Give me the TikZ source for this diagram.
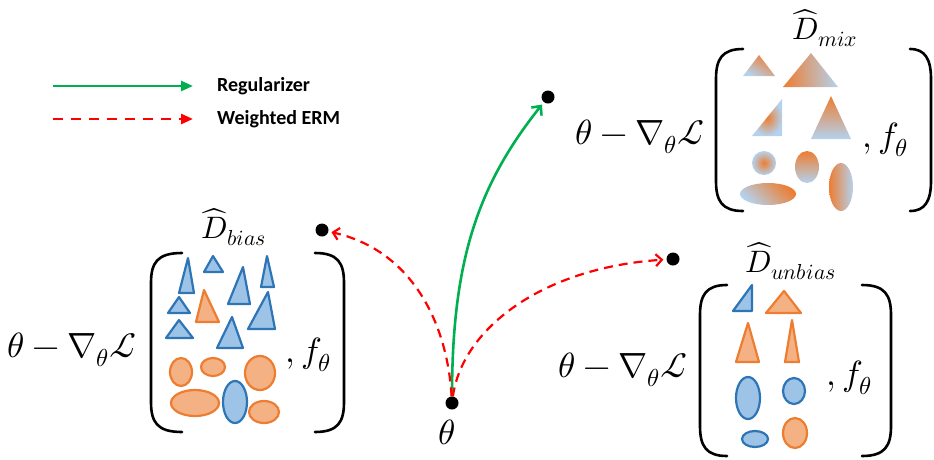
\documentclass[tikz,border=0pt]{standalone}
\usepackage{fontspec}
\usepackage{unicode-math}
\setmathfont{Latin Modern Math}
\newfontfamily\legendfont{Carlito}
\usetikzlibrary{arrows.meta}
\definecolor{orangeC}{HTML}{ED7D31}
\definecolor{orangeF}{HTML}{F4B183}
\definecolor{blueD}{HTML}{2E75B6}
\definecolor{blueF}{HTML}{9DC3E6}
\definecolor{lightB}{HTML}{B4D2EE}
\definecolor{greenC}{HTML}{00B050}
\definecolor{redC}{HTML}{FF0000}
\newcommand\mylbrk[4]{\draw[brk] (#1,#3) .. controls (#2+6,#3) and (#2,#3+10) .. (#2,#3+30) -- (#2,#4-30) .. controls (#2,#4-10) and (#2+6,#4) .. (#1,#4);}
\newcommand\myrbrk[4]{\draw[brk] (#1,#3) .. controls (#2-6,#3) and (#2,#3+10) .. (#2,#3+30) -- (#2,#4-30) .. controls (#2,#4-10) and (#2-6,#4) .. (#1,#4);}
\tikzset{
  mathtxt/.style={font=\fontsize{35}{42}\selectfont, inner sep=0pt},
  lbl/.style={font=\fontsize{31}{37}\selectfont, inner sep=0pt},
  legtxt/.style={font=\legendfont\bfseries\fontsize{20}{24}\selectfont, anchor=west, inner sep=0pt},
  dot/.style={circle, fill=black, minimum size=13pt, inner sep=0pt},
  brk/.style={line width=2.6pt, line cap=round},
  bt/.style={draw=blueD, fill=blueF, line width=2.2pt, line join=round},
  ot/.style={draw=orangeC, fill=orangeF, line width=2.2pt, line join=round},
  greenarr/.style={draw=greenC, line width=2.6pt, -{Straight Barb[length=7pt,width=13pt]}, shorten >=3pt},
  redarr/.style={draw=redC, line width=2.2pt, dash pattern=on 9pt off 6pt, -{Straight Barb[length=6pt,width=12pt]}, shorten >=3pt},
  leggreen/.style={draw=greenC, line width=2.6pt, -{Triangle[length=12pt,width=10pt]}},
  legred/.style={draw=redC, line width=2.6pt, dash pattern=on 10pt off 8pt, -{Triangle[length=12pt,width=10pt]}}
}
\begin{document}
\begin{tikzpicture}[x=1pt,y=-1pt]
\useasboundingbox (0,0) rectangle (934,459);
% legend
\coordinate (g1) at (53,86);
\coordinate (g2) at (193,86);
\coordinate (r1) at (53,119);
\coordinate (r2) at (193,119);
\draw[leggreen] (g1) -- (g2);
\draw[legred] (r1) -- (r2);
\node[legtxt] (lg) at (217,86) {Regularizer};
\node[legtxt] (lr) at (217,119) {Weighted ERM};
% dots
\node[dot] (th) at (452,403) {};
\node[dot] (pmix) at (548,97) {};
\node[dot] (pbias) at (322,230) {};
\node[dot] (punb) at (673,259) {};
\node[mathtxt] (thl) at (447,432) {$\theta$};
% arrows
\draw[greenarr] (th) .. controls (452,260) and (478,185) .. (pmix);
\draw[redarr] (th) .. controls (447,320) and (410,250) .. (pbias);
\draw[redarr] (th) .. controls (462,330) and (540,268) .. (punb);
% equations
\node[mathtxt] (eqmix) at (640,137) {$\theta-\nabla_\theta\mathcal{L}$};
\node[mathtxt] (eqbias) at (72,350) {$\theta-\nabla_\theta\mathcal{L}$};
\node[mathtxt] (equnb) at (623,370) {$\theta-\nabla_\theta\mathcal{L}$};
\node[mathtxt] (fmix) at (885,140) {$,f_\theta$};
\node[mathtxt] (fbias) at (308,355) {$,f_\theta$};
\node[mathtxt] (funb) at (849,378) {$,f_\theta$};
\node[lbl] (Lmix) at (825,28) {$\widehat{D}_{mix}$};
\node[lbl] (Lbias) at (234,227) {$\widehat{D}_{bias}$};
\node[lbl] (Lunb) at (791,261) {$\widehat{D}_{unbias}$};
% brackets
\mylbrk{743}{716}{49}{211}
\myrbrk{910}{931}{49}{211}
\mylbrk{182}{151}{253}{432}
\myrbrk{315}{344}{253}{432}
\mylbrk{727}{700}{285}{456}
\myrbrk{862}{891}{285}{456}
% mix shapes
\shade[top color=orangeC, bottom color=lightB, shading angle=-30] (743,76) -- (775,76) -- (759,55) -- cycle;
\shade[left color=orangeC, right color=lightB] (783,87) -- (838,87) -- (811,53) -- cycle;
\shade[inner color=orangeC, outer color=lightB] (752,136) -- (782,136) -- (782,99) -- cycle;
\shade[top color=orangeC, bottom color=lightB] (811,139) -- (851,139) -- (831,96) -- cycle;
\shade[inner color=orangeC, outer color=lightB] (764,163) circle[radius=12];
\shade[top color=orangeC, bottom color=lightB] (807,167) ellipse[x radius=12, y radius=16];
\shade[top color=orangeC, bottom color=lightB, shading angle=-45] (768,194) ellipse[x radius=28, y radius=11];
\shade[left color=orangeC, right color=lightB] (841,187) ellipse[x radius=12, y radius=24];
% bias shapes
\path[bt] (179,293) -- (194,293) -- (188,258) -- cycle;
\path[bt] (204,272) -- (223,272) -- (213,256) -- cycle;
\path[bt] (228,304) -- (250,304) -- (243,267) -- cycle;
\path[bt] (261,287) -- (274,287) -- (267,256) -- cycle;
\path[bt] (168,313) -- (190,313) -- (179,297) -- cycle;
\path[ot] (196,322) -- (219,322) -- (204,290) -- cycle;
\path[bt] (248,329) -- (275,329) -- (268,292) -- cycle;
\path[bt] (166,338) -- (193,338) -- (179,320) -- cycle;
\path[bt] (217,348) -- (243,348) -- (232,317) -- cycle;
\path[ot] (181,372) ellipse[x radius=11, y radius=14];
\path[ot] (213,367) ellipse[x radius=12, y radius=9];
\path[ot] (260,373) ellipse[x radius=15, y radius=17];
\path[ot] (195,403) ellipse[x radius=24, y radius=13];
\path[bt] (235,402) ellipse[x radius=12, y radius=21];
\path[ot] (264,412) ellipse[x radius=15, y radius=11];
% unbias shapes
\path[bt] (733,311) -- (752,311) -- (752,285) -- cycle;
\path[ot] (766,313) -- (801,313) -- (784,291) -- cycle;
\path[ot] (736,362) -- (759,362) -- (748,323) -- cycle;
\path[ot] (785,362) -- (799,362) -- (792,320) -- cycle;
\path[bt] (748,398) ellipse[x radius=12, y radius=21];
\path[bt] (794,391) ellipse[x radius=11, y radius=13];
\path[bt] (755,439) ellipse[x radius=13, y radius=8];
\path[ot] (795,433) ellipse[x radius=12, y radius=15];
\end{tikzpicture}
\end{document}
